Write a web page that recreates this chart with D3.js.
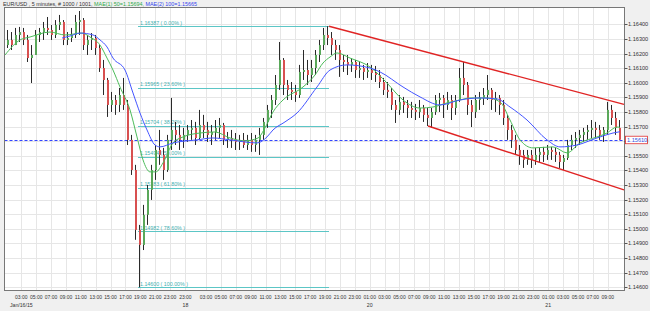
<!DOCTYPE html>
<html><head><meta charset="utf-8">
<script src="https://cdn.jsdelivr.net/npm/d3@7"></script>
<style>
body{margin:0;background:#f0f0f0;}
svg{display:block;font-family:"Liberation Sans",Arial,sans-serif;}
</style>
</head><body>
<svg id="chart" width="650" height="311"></svg>
<script>
// ---------- DATA ----------
const opens = [1.16258,1.16293,1.16258,1.16327,1.16347,1.16293,1.16169,1.16190,1.16327,1.16347,1.16375,1.16361,1.16327,1.16395,1.16416,1.16293,1.16306,1.16327,1.16416,1.16429,1.16258,1.16293,1.16306,1.16238,1.16101,1.16019,1.15848,1.15882,1.15848,1.15916,1.15848,1.15609,1.15403,1.14993,1.14890,1.15096,1.15267,1.15403,1.15540,1.15506,1.15403,1.15609,1.15677,1.15643,1.15609,1.15643,1.15677,1.15691,1.15622,1.15711,1.15677,1.15643,1.15663,1.15691,1.15711,1.15609,1.15622,1.15609,1.15595,1.15609,1.15574,1.15609,1.15574,1.15609,1.15643,1.15732,1.15814,1.15882,1.15985,1.16156,1.15985,1.15951,1.15937,1.15916,1.16074,1.16087,1.16053,1.16101,1.16190,1.16258,1.16327,1.16306,1.16258,1.16224,1.16156,1.16142,1.16122,1.16142,1.16087,1.16101,1.16074,1.16087,1.16067,1.16053,1.16005,1.15951,1.15937,1.15848,1.15814,1.15869,1.15848,1.15827,1.15814,1.15800,1.15827,1.15780,1.15759,1.15800,1.15882,1.15896,1.15848,1.15882,1.15827,1.15882,1.16033,1.15985,1.15848,1.15800,1.15882,1.15896,1.15916,1.15951,1.15882,1.15896,1.15848,1.15759,1.15677,1.15609,1.15540,1.15506,1.15472,1.15506,1.15472,1.15506,1.15527,1.15506,1.15540,1.15527,1.15506,1.15458,1.15485,1.15574,1.15609,1.15622,1.15643,1.15663,1.15677,1.15691,1.15677,1.15643,1.15677,1.15814,1.15759,1.15691];
const highs = [1.16361,1.16347,1.16375,1.16382,1.16375,1.16327,1.16258,1.16361,1.16375,1.16416,1.16450,1.16395,1.16429,1.16464,1.16429,1.16347,1.16375,1.16464,1.16491,1.16443,1.16327,1.16340,1.16327,1.16258,1.16156,1.16033,1.15937,1.15916,1.15964,1.16033,1.15882,1.15643,1.15438,1.15027,1.15164,1.15301,1.15438,1.15574,1.15677,1.15554,1.15643,1.15896,1.15732,1.15711,1.15691,1.15711,1.15745,1.15732,1.15814,1.15780,1.15732,1.15711,1.15745,1.15759,1.15725,1.15663,1.15677,1.15656,1.15643,1.15656,1.15643,1.15656,1.15643,1.15691,1.15759,1.15848,1.15916,1.16053,1.16279,1.16169,1.16019,1.16005,1.15985,1.16122,1.16224,1.16156,1.16156,1.16224,1.16293,1.16375,1.16387,1.16347,1.16293,1.16258,1.16190,1.16190,1.16169,1.16156,1.16142,1.16122,1.16135,1.16122,1.16115,1.16087,1.16033,1.16005,1.15964,1.15882,1.15916,1.15903,1.15882,1.15869,1.15855,1.15882,1.15848,1.15827,1.15827,1.15916,1.15930,1.15916,1.15937,1.15916,1.15916,1.16101,1.16142,1.16005,1.15882,1.15916,1.15937,1.15964,1.16053,1.15964,1.15937,1.15916,1.15882,1.15780,1.15711,1.15643,1.15574,1.15540,1.15540,1.15540,1.15554,1.15554,1.15561,1.15574,1.15561,1.15554,1.15527,1.15506,1.15609,1.15643,1.15663,1.15677,1.15691,1.15711,1.15745,1.15732,1.15711,1.15697,1.15869,1.15848,1.15800,1.15745];
const lows = [1.16238,1.16224,1.16258,1.16279,1.16258,1.16142,1.15998,1.16190,1.16279,1.16293,1.16327,1.16293,1.16306,1.16361,1.16258,1.16258,1.16279,1.16306,1.16327,1.16224,1.16190,1.16224,1.16190,1.16074,1.15916,1.15766,1.15800,1.15780,1.15800,1.15814,1.15574,1.15369,1.14925,1.14600,1.14855,1.15027,1.15198,1.15335,1.15438,1.15335,1.15390,1.15540,1.15574,1.15540,1.15554,1.15595,1.15609,1.15574,1.15609,1.15622,1.15595,1.15574,1.15609,1.15622,1.15574,1.15554,1.15554,1.15540,1.15540,1.15554,1.15540,1.15527,1.15527,1.15506,1.15609,1.15691,1.15759,1.15848,1.15951,1.15916,1.15882,1.15882,1.15869,1.15896,1.16019,1.15985,1.16005,1.16053,1.16142,1.16224,1.16258,1.16190,1.16156,1.16040,1.16074,1.16053,1.16074,1.16033,1.16033,1.16019,1.16033,1.16019,1.16005,1.15964,1.15916,1.15896,1.15814,1.15725,1.15780,1.15793,1.15759,1.15759,1.15745,1.15759,1.15732,1.15704,1.15691,1.15780,1.15800,1.15759,1.15814,1.15745,1.15780,1.15869,1.15916,1.15780,1.15697,1.15759,1.15814,1.15848,1.15882,1.15814,1.15800,1.15780,1.15711,1.15609,1.15554,1.15506,1.15438,1.15417,1.15438,1.15417,1.15438,1.15458,1.15458,1.15472,1.15472,1.15458,1.15417,1.15403,1.15472,1.15540,1.15554,1.15574,1.15595,1.15609,1.15622,1.15622,1.15609,1.15595,1.15643,1.15711,1.15643,1.15609];
const closes = [1.16293,1.16258,1.16327,1.16347,1.16293,1.16169,1.16190,1.16327,1.16347,1.16375,1.16361,1.16327,1.16395,1.16416,1.16293,1.16306,1.16327,1.16416,1.16429,1.16258,1.16293,1.16306,1.16238,1.16101,1.16019,1.15848,1.15882,1.15848,1.15916,1.15848,1.15609,1.15403,1.14993,1.14890,1.15096,1.15267,1.15403,1.15540,1.15506,1.15403,1.15609,1.15677,1.15643,1.15609,1.15643,1.15677,1.15691,1.15622,1.15711,1.15677,1.15643,1.15663,1.15691,1.15711,1.15609,1.15622,1.15609,1.15595,1.15609,1.15574,1.15609,1.15574,1.15609,1.15643,1.15732,1.15814,1.15882,1.15985,1.16156,1.15985,1.15951,1.15937,1.15916,1.16074,1.16087,1.16053,1.16101,1.16190,1.16258,1.16327,1.16306,1.16258,1.16224,1.16156,1.16142,1.16122,1.16142,1.16087,1.16101,1.16074,1.16087,1.16067,1.16053,1.16005,1.15951,1.15937,1.15848,1.15814,1.15869,1.15848,1.15827,1.15814,1.15800,1.15827,1.15780,1.15759,1.15800,1.15882,1.15896,1.15848,1.15882,1.15827,1.15882,1.16033,1.15985,1.15848,1.15800,1.15882,1.15896,1.15916,1.15951,1.15882,1.15896,1.15848,1.15759,1.15677,1.15609,1.15540,1.15506,1.15472,1.15506,1.15472,1.15506,1.15527,1.15506,1.15540,1.15527,1.15506,1.15458,1.15485,1.15574,1.15609,1.15622,1.15643,1.15663,1.15677,1.15691,1.15677,1.15643,1.15677,1.15814,1.15759,1.15691,1.15610];

// moving averages (candle position, value)
const ma50Pos = [-0.5,3.25,5.75,10.75,14.5,18.75,20.75,23.25,25,26.5,28.25,30.75,32.5,34,35.75,37.25,39,41.5,44,48.25,52,55.75,59.5,62.75,64.5,66.5,69,74,77,79,80.75,82.5,85.75,90.75,95,99,103.25,106.5,110,113.25,115.75,120,123.25,125.75,128.25,131.5,136.5,140,143.25,147.5,150,152.5,153.25];
const ma50Val = [1.16190,1.16293,1.16313,1.16347,1.16327,1.16340,1.16313,1.16258,1.16169,1.16087,1.15971,1.15814,1.15629,1.15472,1.15390,1.15390,1.15451,1.15588,1.15629,1.15656,1.15663,1.15622,1.15602,1.15622,1.15691,1.15800,1.15882,1.15971,1.16053,1.16135,1.16176,1.16204,1.16169,1.16108,1.15998,1.15882,1.15827,1.15834,1.15862,1.15882,1.15896,1.15896,1.15869,1.15745,1.15609,1.15554,1.15561,1.15520,1.15588,1.15629,1.15656,1.15697,1.15694];
const ma100Pos = [13.75,15.75,18.25,21.5,23.25,25,26.5,29.5,31.5,33.25,35,37,38.25,41.5,47.5,51.5,55.75,62.5,65,66.5,69.5,72.5,77.5,80.75,85,90.75,93.25,99,103.25,108.25,113.25,118.25,122.5,125.75,130,135,138.25,142.5,147.5,151.5,153.25];
const ma100Val = [1.16306,1.16320,1.16340,1.16327,1.16293,1.16245,1.16169,1.16087,1.15930,1.15793,1.15677,1.15574,1.15561,1.15588,1.15609,1.15622,1.15609,1.15588,1.15629,1.15677,1.15732,1.15793,1.15971,1.16087,1.16122,1.16101,1.16074,1.15971,1.15903,1.15848,1.15882,1.15896,1.15889,1.15834,1.15745,1.15609,1.15561,1.15574,1.15622,1.15656,1.15665];

// axes
const priceTicks = [1.146,1.147,1.148,1.149,1.150,1.151,1.152,1.153,1.154,1.155,1.156,1.157,1.158,1.159,1.160,1.161,1.162,1.163,1.164];
const timeLabels = ["03:00","05:00","07:00","09:00","11:00","13:00","15:00","17:00","19:00","21:00","23:00","23:00","03:00","05:00","07:00","09:00","11:00","13:00","15:00","17:00","19:00","21:00","23:00","01:00","03:00","05:00","07:00","09:00","11:00","13:00","15:00","17:00","19:00","21:00","23:00","01:00","03:00","05:00","07:00","09:00"];
const timePos = [3.58,7.30,11.02,14.74,18.46,22.18,25.90,29.62,33.34,37.06,40.78,44.6,49.75,53.47,57.19,60.91,64.63,68.35,72.07,75.79,79.51,83.23,86.95,90.67,94.39,98.11,101.83,105.55,109.27,112.99,116.71,120.43,124.15,127.87,131.59,135.31,139.03,142.75,146.47,150.19];
const dayLabels = ["Jan/16/15","18","20","21"];
const dayPos = [3.58,44.6,90.67,135.31];

// fibonacci retracement
const fibLevels = [1.16387,1.15965,1.15704,1.15494,1.15283,1.14982,1.14600];
const fibPct = ["0.00%","23.60%","38.20%","50.00%","61.80%","78.60%","100.00%"];
const fibFrom = 32.75, fibTo = 80.5;

// trend channel
const upperLine = [[80.5,1.16387],[154.25,1.15852]];
const lowerLine = [[105.25,1.15704],[154.25,1.15267]];
const lastPrice = 1.15610;

// ---------- DRAW ----------
const W=650,H=311;
const P={l:4.5,r:624.5,t:7.5,b:290.5};
const svg=d3.select("#chart");
const x=d3.scaleLinear().domain([0,153]).range([7,619]);
const y=d3.scaleLinear().domain([1.146,1.164]).range([287.3,24.3]);

svg.append("rect").attr("width",W).attr("height",H).attr("fill","#f0f0f0");
svg.append("rect").attr("x",P.l).attr("y",P.t).attr("width",P.r-P.l).attr("height",P.b-P.t).attr("fill","#fff");
svg.append("defs").append("clipPath").attr("id","clip").append("rect")
  .attr("x",P.l).attr("y",P.t).attr("width",P.r-P.l).attr("height",P.b-P.t);
const g=svg.append("g").attr("clip-path","url(#clip)");

// grid
g.selectAll(".hg").data(priceTicks).join("line")
  .attr("x1",P.l).attr("x2",P.r).attr("y1",d=>Math.round(y(d))+0.5).attr("y2",d=>Math.round(y(d))+0.5)
  .attr("stroke","#e6e6e6").attr("stroke-width",1);
g.selectAll(".vg").data(timePos).join("line")
  .attr("x1",d=>Math.round(x(d))+0.5).attr("x2",d=>Math.round(x(d))+0.5).attr("y1",P.t).attr("y2",P.b)
  .attr("stroke","#e6e6e6").attr("stroke-width",1);

// fib levels
g.selectAll(".fib").data(fibLevels).join("line")
  .attr("x1",x(fibFrom)).attr("x2",x(fibTo)).attr("y1",d=>Math.round(y(d))+0.5).attr("y2",d=>Math.round(y(d))+0.5)
  .attr("stroke","#5cc6c6").attr("stroke-width",1);
g.selectAll(".fibt").data(fibLevels).join("text")
  .attr("x",x(fibFrom)+2).attr("y",d=>y(d)-1.5)
  .attr("font-size","5.3px").attr("fill","#3fb0b0")
  .text((d,i)=>d.toFixed(5)+" ( "+fibPct[i]+" )");

// last price dashed line
g.append("line").attr("x1",P.l).attr("x2",P.r).attr("y1",Math.round(y(lastPrice))+0.5).attr("y2",Math.round(y(lastPrice))+0.5)
  .attr("stroke","#3344ff").attr("stroke-width",1).attr("stroke-dasharray","3,2");

// candles
const idx=d3.range(closes.length);
g.selectAll(".wick").data(idx).join("line")
  .attr("x1",i=>Math.round(x(i))+0.5).attr("x2",i=>Math.round(x(i))+0.5)
  .attr("y1",i=>y(highs[i])).attr("y2",i=>y(lows[i]))
  .attr("stroke","#2a2a2a").attr("stroke-width",1);
g.selectAll(".body").data(idx).join("rect")
  .attr("x",i=>Math.round(x(i))).attr("width",2)
  .attr("y",i=>y(Math.max(opens[i],closes[i])))
  .attr("height",i=>Math.max(1,Math.abs(y(opens[i])-y(closes[i]))))
  .attr("fill",i=>closes[i]>=opens[i]?"#5aa85a":"#d85050");

// moving averages
const line=d3.line().curve(d3.curveMonotoneX);
g.append("path").attr("d",line(ma50Pos.map((p,i)=>[x(p),y(ma50Val[i])])))
  .attr("fill","none").attr("stroke","#4cbb5a").attr("stroke-width",1);
g.append("path").attr("d",line(ma100Pos.map((p,i)=>[x(p),y(ma100Val[i])])))
  .attr("fill","none").attr("stroke","#4455ff").attr("stroke-width",1);

// channel
[upperLine,lowerLine].forEach(l=>{
  g.append("line").attr("x1",x(l[0][0])).attr("y1",y(l[0][1])).attr("x2",x(l[1][0])).attr("y2",y(l[1][1]))
   .attr("stroke","#e02424").attr("stroke-width",1.4);
});

// frame
svg.append("rect").attr("x",P.l).attr("y",P.t).attr("width",P.r-P.l).attr("height",P.b-P.t)
  .attr("fill","none").attr("stroke","#777").attr("stroke-width",1);

// y axis
const ya=svg.append("g");
ya.selectAll("line").data(priceTicks).join("line")
  .attr("x1",P.r).attr("x2",P.r+3).attr("y1",d=>Math.round(y(d))+0.5).attr("y2",d=>Math.round(y(d))+0.5).attr("stroke","#555");
ya.selectAll("text").data(priceTicks).join("text")
  .attr("x",P.r+3.5).attr("y",d=>y(d)+2).attr("font-size","5.6px").attr("fill","#333")
  .text(d=>d.toFixed(5));

// last price box
const lb=svg.append("g");
lb.append("rect").attr("x",625.5).attr("y",y(lastPrice)-3.5).attr("width",22).attr("height",7.5)
  .attr("fill","#fff").attr("stroke","#e03030").attr("stroke-width",0.8);
lb.append("text").attr("x",627).attr("y",y(lastPrice)+2).attr("font-size","5.6px").attr("fill","#3050e0").text(lastPrice.toFixed(5));

// x axis
const xa=svg.append("g");
xa.selectAll("text.t").data(timeLabels).join("text").attr("class","t")
  .attr("x",(d,i)=>x(timePos[i])).attr("y",299).attr("text-anchor","middle")
  .attr("font-size","5px").attr("fill","#333").text(d=>d);
xa.selectAll("text.d").data(dayLabels).join("text").attr("class","d")
  .attr("x",(d,i)=>x(dayPos[i])).attr("y",306.5).attr("text-anchor","middle")
  .attr("font-size","5.2px").attr("fill","#333").text(d=>d);

// title
const t=svg.append("text").attr("x",3).attr("y",5.5).attr("font-size","5.4px");
t.append("tspan").attr("fill","#333").text("EUR/USD , 5 minutes, # 1000 / 1001, ");
t.append("tspan").attr("fill","#2ea84a").text("MAE(1) 50=1.15694, ");
t.append("tspan").attr("fill","#3344ee").text("MAE(2) 100=1.15665");
</script>
</body></html>
